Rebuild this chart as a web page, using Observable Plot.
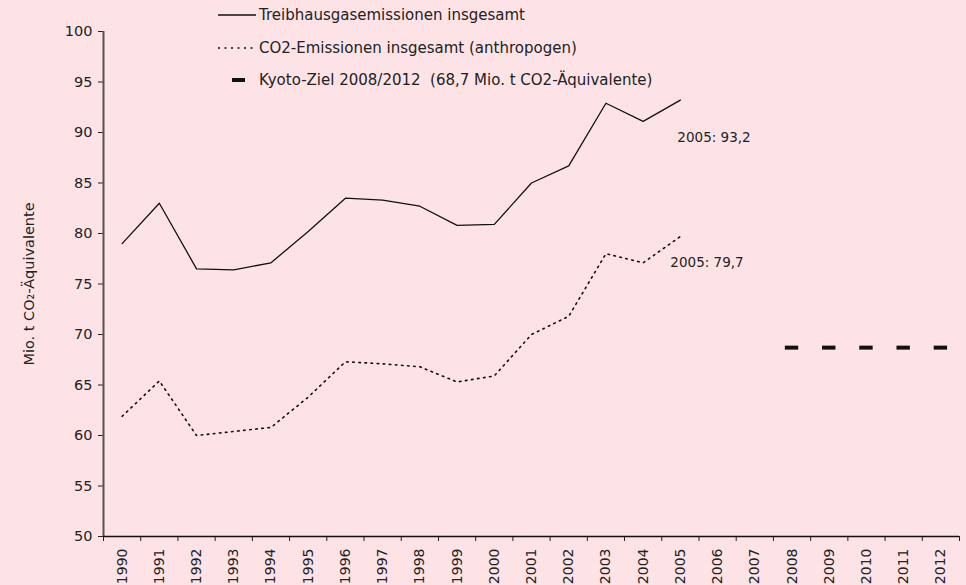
<!DOCTYPE html>
<html>
<head>
<meta charset="utf-8">
<script src="https://cdn.jsdelivr.net/npm/d3@7"></script>
<script src="https://cdn.jsdelivr.net/npm/@observablehq/plot@0.6"></script>
<style>
  html, body { margin: 0; padding: 0; background: #fde3e6; }
  #wrap { position: relative; width: 966px; height: 585px; font-family: "DejaVu Sans", sans-serif; color: #222; }
  #legend { position: absolute; left: 218px; top: 4px; font-size: 15px; }
  .li { position: absolute; left: 0; white-space: nowrap; height: 20px; line-height: 20px; }
  .li svg { position: absolute; left: 0; top: 0; }
  .li span { position: absolute; left: 41px; top: 0; }
</style>
</head>
<body>
<div id="wrap">
  <div id="chart"></div>
  <div id="legend">
    <div class="li" style="top:1px"><svg width="40" height="20"><line x1="0" y1="10" x2="38" y2="10" stroke="#111" stroke-width="1.3"/></svg><span>Treibhausgasemissionen insgesamt</span></div>
    <div class="li" style="top:34px"><svg width="40" height="20"><line x1="0" y1="10" x2="36" y2="10" stroke="#111" stroke-width="1.6" stroke-dasharray="2,4.5"/></svg><span>CO2-Emissionen insgesamt (anthropogen)</span></div>
    <div class="li" style="top:66px"><svg width="40" height="20"><line x1="14" y1="10" x2="27" y2="10" stroke="#111" stroke-width="4"/></svg><span>Kyoto-Ziel 2008/2012&nbsp; (68,7 Mio. t CO2-Äquivalente)</span></div>
  </div>
</div>
<script>
const years = [1990,1991,1992,1993,1994,1995,1996,1997,1998,1999,2000,2001,2002,2003,2004,2005];
const ghgTotal = [79.0,83.0,76.5,76.4,77.1,80.2,83.5,83.3,82.7,80.8,80.9,85.0,86.7,92.9,91.1,93.2];
const co2Total = [61.9,65.4,60.0,60.4,60.8,63.8,67.3,67.1,66.8,65.3,65.9,70.0,71.8,78.0,77.1,79.7];
const kyotoYears = [2008,2009,2010,2011,2012];
const kyotoTarget = 68.7;
const axisYears = [1990,1991,1992,1993,1994,1995,1996,1997,1998,1999,2000,2001,2002,2003,2004,2005,2006,2007,2008,2009,2010,2011,2012];
const yTicks = [50,55,60,65,70,75,80,85,90,95,100];
const ghgLabel = [{year: 2005, value: 93.2, label: "2005: 93,2"}];
const co2Label = [{year: 2005, value: 79.7, label: "2005: 79,7"}];

const ghgData = years.map((y, i) => ({year: y, value: ghgTotal[i]}));
const co2Data = years.map((y, i) => ({year: y, value: co2Total[i]}));
const kyotoData = kyotoYears.map(y => ({year: y, value: kyotoTarget}));
const edges = [axisYears[0] - 0.5, ...axisYears.map(y => y + 0.5)];

const chart = Plot.plot({
  width: 966,
  height: 585,
  marginLeft: 103,
  marginRight: 7,
  marginTop: 31,
  marginBottom: 49,
  style: {background: "#fde3e6", fontFamily: "DejaVu Sans, sans-serif", fontSize: "14px", color: "#222"},
  x: {type: "linear", domain: [edges[0], edges[edges.length - 1]]},
  y: {domain: [50, 100]},
  marks: [
    Plot.axisY({ticks: yTicks, tickSize: 5, tickPadding: 6, fontSize: 14.5,
      label: "Mio. t CO₂-Äquivalente", labelAnchor: "center", labelArrow: "none", labelOffset: 80}),
    Plot.axisX({ticks: edges, tickSize: 5, tickFormat: () => "", label: null}),
    Plot.axisX({ticks: axisYears, tickSize: 0, tickPadding: 12, tickRotate: -90, fontSize: 14,
      tickFormat: d => String(d), label: null}),
    Plot.ruleX([edges[0]], {stroke: "#555", strokeWidth: 2}),
    Plot.ruleY([50], {stroke: "#111", strokeWidth: 1.5}),
    Plot.line(ghgData, {x: "year", y: "value", stroke: "#111", strokeWidth: 1.3}),
    Plot.line(co2Data, {x: "year", y: "value", stroke: "#111", strokeWidth: 1.6, strokeDasharray: "1.6,4.5"}),
    Plot.ruleY(kyotoData, {x1: d => d.year - 0.18, x2: d => d.year + 0.18, y: "value", stroke: "#111", strokeWidth: 4}),
    Plot.text(ghgLabel, {x: "year", y: "value", text: "label", dy: 37, dx: -3, textAnchor: "start", fontSize: 13.5, fill: "#222"}),
    Plot.text(co2Label, {x: "year", y: "value", text: "label", dy: 26, dx: -10, textAnchor: "start", fontSize: 13.5, fill: "#222"})
  ]
});
document.getElementById("chart").appendChild(chart);
</script>
</body>
</html>
